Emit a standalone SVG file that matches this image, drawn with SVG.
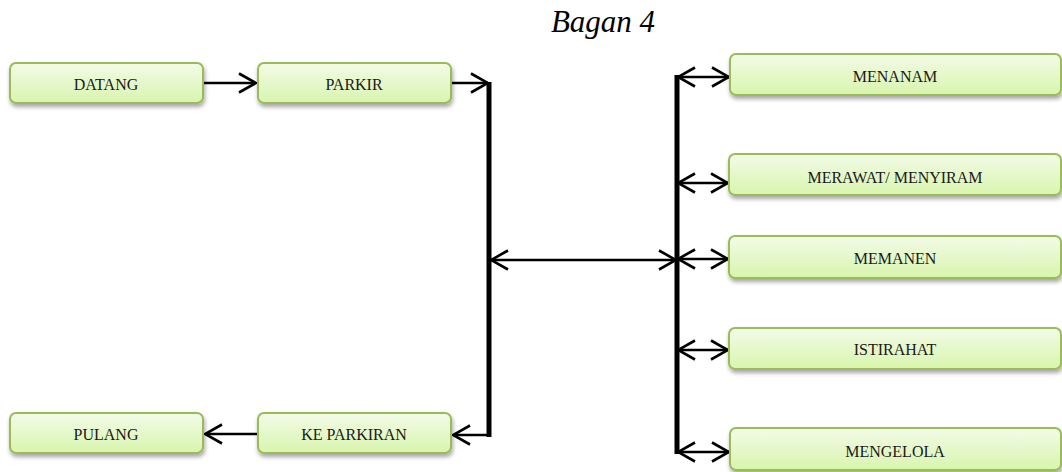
<svg xmlns="http://www.w3.org/2000/svg" width="1062" height="472" viewBox="0 0 1062 472">
<style>
.box{fill:url(#g);stroke:#9bbb59;stroke-width:2;filter:url(#sh)}
.lbl{font-family:"Liberation Serif","Times New Roman","DejaVu Serif",serif;font-size:16px;fill:#1a1a1a;text-anchor:middle;dominant-baseline:central}
.ln{stroke:#000;stroke-width:2.3;fill:none}
.bar{stroke:#000;stroke-width:5;fill:none}
</style>
<defs>
<linearGradient id="g" x1="0" y1="0" x2="0" y2="1">
<stop offset="0" stop-color="#f3fbe8"/>
<stop offset="1" stop-color="#d8f5ad"/>
</linearGradient>
<filter id="sh" x="-10%" y="-20%" width="120%" height="160%">
<feDropShadow dx="1" dy="3" stdDeviation="2" flood-color="#000" flood-opacity="0.35"/>
</filter>
<marker id="ah" viewBox="0 0 20 22" refX="18" refY="11" markerWidth="20" markerHeight="22" markerUnits="userSpaceOnUse" orient="auto-start-reverse">
<path d="M1,1.5 L18,11 L1,20.5" fill="none" stroke="#000" stroke-width="2.6"/>
</marker>
</defs>
<rect width="1062" height="472" fill="#fff"/>
<text x="603" y="32" font-family="'Liberation Serif','Times New Roman','DejaVu Serif',serif" font-style="italic" font-size="31" fill="#000" text-anchor="middle">Bagan 4</text>
<g id="connectors">
<line class="bar" x1="489" y1="82" x2="489" y2="437"/>
<line class="bar" x1="677" y1="75" x2="677" y2="454"/>
<line class="ln" x1="203" y1="83" x2="256" y2="83" marker-end="url(#ah)"/>
<line class="ln" x1="451" y1="83" x2="488" y2="83" marker-end="url(#ah)"/>
<line class="ln" x1="489" y1="435" x2="453" y2="435" marker-end="url(#ah)"/>
<line class="ln" x1="257" y1="434" x2="205" y2="434" marker-end="url(#ah)"/>
<line class="ln" x1="491" y1="260" x2="676" y2="260" marker-start="url(#ah)" marker-end="url(#ah)"/>
<line class="ln" x1="678" y1="77" x2="729" y2="77" marker-start="url(#ah)" marker-end="url(#ah)"/>
<line class="ln" x1="678" y1="183" x2="728" y2="183" marker-start="url(#ah)" marker-end="url(#ah)"/>
<line class="ln" x1="678" y1="259" x2="728" y2="259" marker-start="url(#ah)" marker-end="url(#ah)"/>
<line class="ln" x1="678" y1="350" x2="728" y2="350" marker-start="url(#ah)" marker-end="url(#ah)"/>
<line class="ln" x1="678" y1="452" x2="729" y2="452" marker-start="url(#ah)" marker-end="url(#ah)"/>
</g>
<g id="datang"><rect class="box" x="10" y="63" width="193" height="40" rx="6"/><text class="lbl" x="106" y="84">DATANG</text></g>
<g id="parkir"><rect class="box" x="258" y="63" width="193" height="40" rx="6"/><text class="lbl" x="354" y="84">PARKIR</text></g>
<g id="pulang"><rect class="box" x="10" y="413" width="193" height="40" rx="6"/><text class="lbl" x="106" y="434">PULANG</text></g>
<g id="ke-parkiran"><rect class="box" x="258" y="413" width="193" height="40" rx="6"/><text class="lbl" x="354" y="434">KE PARKIRAN</text></g>
<g id="menanam"><rect class="box" x="730" y="54" width="331" height="41" rx="6"/><text class="lbl" x="895" y="76">MENANAM</text></g>
<g id="merawat"><rect class="box" x="729" y="154" width="332" height="41" rx="6"/><text class="lbl" x="895" y="177">MERAWAT/ MENYIRAM</text></g>
<g id="memanen"><rect class="box" x="729" y="236" width="332" height="42" rx="6"/><text class="lbl" x="895" y="258">MEMANEN</text></g>
<g id="istirahat"><rect class="box" x="729" y="328" width="332" height="41" rx="6"/><text class="lbl" x="895" y="349">ISTIRAHAT</text></g>
<g id="mengelola"><rect class="box" x="730" y="428" width="331" height="42" rx="6"/><text class="lbl" x="895" y="451">MENGELOLA</text></g>
</svg>
